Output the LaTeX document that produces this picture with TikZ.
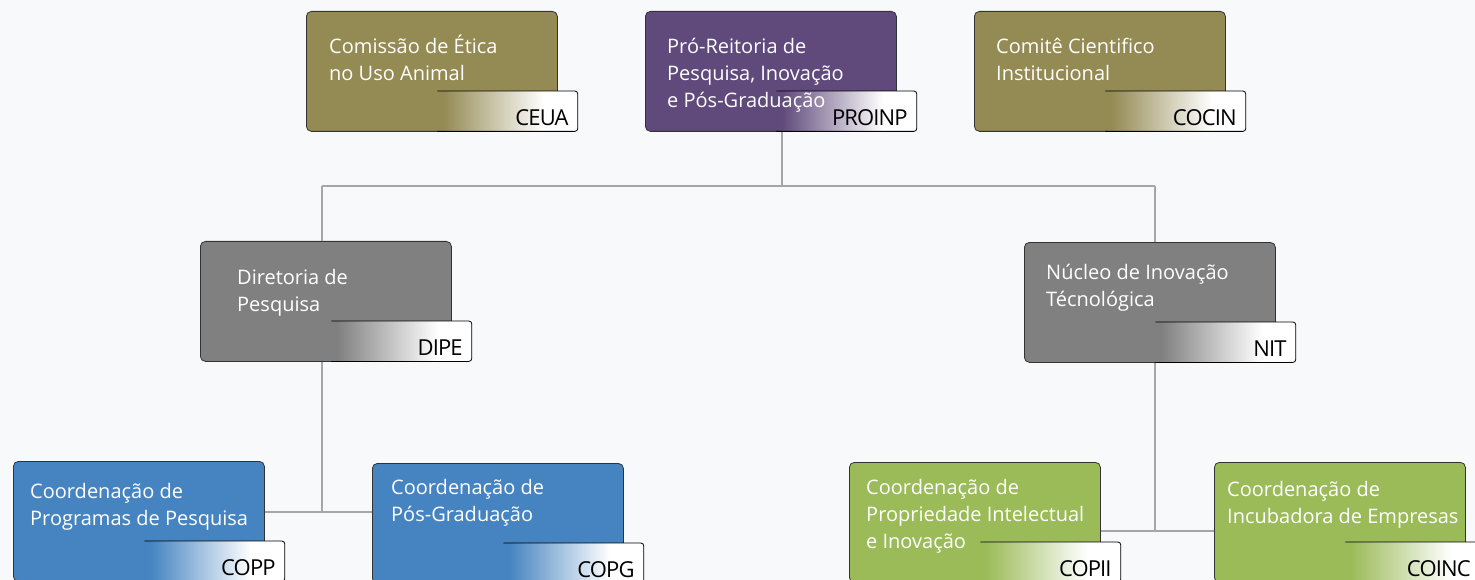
\documentclass[tikz,border=0pt]{standalone}
\usepackage{fontspec}
\setmainfont{Open Sans}
\usetikzlibrary{calc}

\definecolor{pageBg}{HTML}{F8F9FB}
\definecolor{linkGray}{HTML}{A6A6A6}
\definecolor{unitOlive}{HTML}{948A54}
\definecolor{unitPurple}{HTML}{604A7B}
\definecolor{unitGray}{HTML}{808080}
\definecolor{unitBlue}{HTML}{4584C1}
\definecolor{unitGreen}{HTML}{9BBB59}

% tag shadings: box colour fading into white
\pgfdeclarehorizontalshading{tagunitOlive}{100bp}{color(0bp)=(unitOlive); color(27bp)=(unitOlive); color(63bp)=(white); color(100bp)=(white)}
\pgfdeclarehorizontalshading{tagunitPurple}{100bp}{color(0bp)=(unitPurple); color(27bp)=(unitPurple); color(63bp)=(white); color(100bp)=(white)}
\pgfdeclarehorizontalshading{tagunitGray}{100bp}{color(0bp)=(unitGray); color(27bp)=(unitGray); color(63bp)=(white); color(100bp)=(white)}
\pgfdeclarehorizontalshading{tagunitBlue}{100bp}{color(0bp)=(unitBlue); color(27bp)=(unitBlue); color(63bp)=(white); color(100bp)=(white)}
\pgfdeclarehorizontalshading{tagunitGreen}{100bp}{color(0bp)=(unitGreen); color(27bp)=(unitGreen); color(63bp)=(white); color(100bp)=(white)}

% one unit: box, tag with abbreviation, name on top
% (#7 is the offset of the last text line's baseline, #1 the abbreviation's x offset)
\newcommand{\orgunit}[7][-9pt]{%
  \node[unitbox, fill=#4] (#2) at (#3) {};
  \node[unittag, shading=tag#4] (#2Tag) at ([shift={(20pt,-80pt)}]#2.north east) {};
  \draw[tagline] (#2Tag.north west) -- (#2Tag.north east) -- (#2Tag.south east) -- (#2Tag.south west);
  \node[tagtext] (#2Abbr) at ([shift={(#1,6pt)}]#2Tag.south east) {#6};
  \node[unittext] (#2Text) at ([shift={(#7)}]#2.north west) {#5};
}

\begin{document}
\begin{tikzpicture}[x=1pt,y=-1pt]
        \tikzstyle{unitbox}=[rectangle,rounded corners=5pt,draw=black!80,line width=0.8pt,anchor=north west,minimum width=251pt,minimum height=120pt,inner sep=0pt]
        \tikzstyle{unittext}=[anchor=base west,align=left,inner sep=0pt,text=white,font=\fontsize{20}{27}\selectfont]
        \tikzstyle{unittag}=[rectangle,rounded corners=3pt,anchor=north east,minimum width=140pt,minimum height=40pt,inner sep=0pt]
        \tikzstyle{tagline}=[draw=black,line width=0.8pt,rounded corners=3pt]
        \tikzstyle{tagtext}=[anchor=base east,inner sep=0pt,text=black,font=\fontsize{22}{22}\selectfont\addfontfeature{LetterSpace=-4}]
        \tikzstyle{link}=[draw=linkGray,line width=1.3pt]
        \fill[pageBg] (0,0) rectangle (1475,580);
        \useasboundingbox (0,0) rectangle (1475,580);
        % top row
        \orgunit{ceua}{306,11}{unitOlive}{Comissão de Ética\\no Uso Animal}{CEUA}{23pt,-70pt}
        \orgunit{proinp}{645,11}{unitPurple}{Pró-Reitoria de\\Pesquisa, Inovação\\e Pós-Graduação}{PROINP}{22pt,-97pt}
        \orgunit{cocin}{974,11}{unitOlive}{Comitê Cientifico\\Institucional}{COCIN}{22pt,-70pt}
        % middle row
        \orgunit{dipe}{200,241}{unitGray}{Diretoria de\\Pesquisa}{DIPE}{37pt,-70pt}
        \orgunit{nit}{1024,242}{unitGray}{Núcleo de Inovação\\Técnológica}{NIT}{22pt,-64pt}
        % bottom row
        \orgunit{copp}{13,461}{unitBlue}{Coordenação de\\Programas de Pesquisa}{COPP}{17pt,-64pt}
        \orgunit{copg}{372,463}{unitBlue}{Coordenação de\\Pós-Graduação}{COPG}{19pt,-58pt}
        \orgunit{copii}{849,462}{unitGreen}{Coordenação de\\Propriedade Intelectual\\e Inovação}{COPII}{17pt,-86pt}
        \orgunit[-15pt]{coinc}{1214,462}{unitGreen}{Coordenação de\\Incubadora de Empresas}{COINC}{13pt,-61pt}
        % links
        \coordinate (hubTop) at (782,186);
        \coordinate (hubL) at (322,186);
        \coordinate (hubR) at (1155,186);
        \coordinate (hubDipe) at (322,512);
        \coordinate (hubNit) at (1155,531);
        \draw[link] (hubTop |- proinp.south) -- (hubTop);
        \draw[link] (hubL) -- (hubR);
        \draw[link] (hubL) -- (hubL |- dipe.north);
        \draw[link] (hubR) -- (hubR |- nit.north);
        \draw[link] (hubL |- dipe.south) -- (hubDipe);
        \draw[link] (copp.east |- hubDipe) -- (copg.west |- hubDipe);
        \draw[link] (hubR |- nit.south) -- (hubNit);
        \draw[link] (copii.east |- hubNit) -- (coinc.west |- hubNit);
    \end{tikzpicture}
\end{document}
